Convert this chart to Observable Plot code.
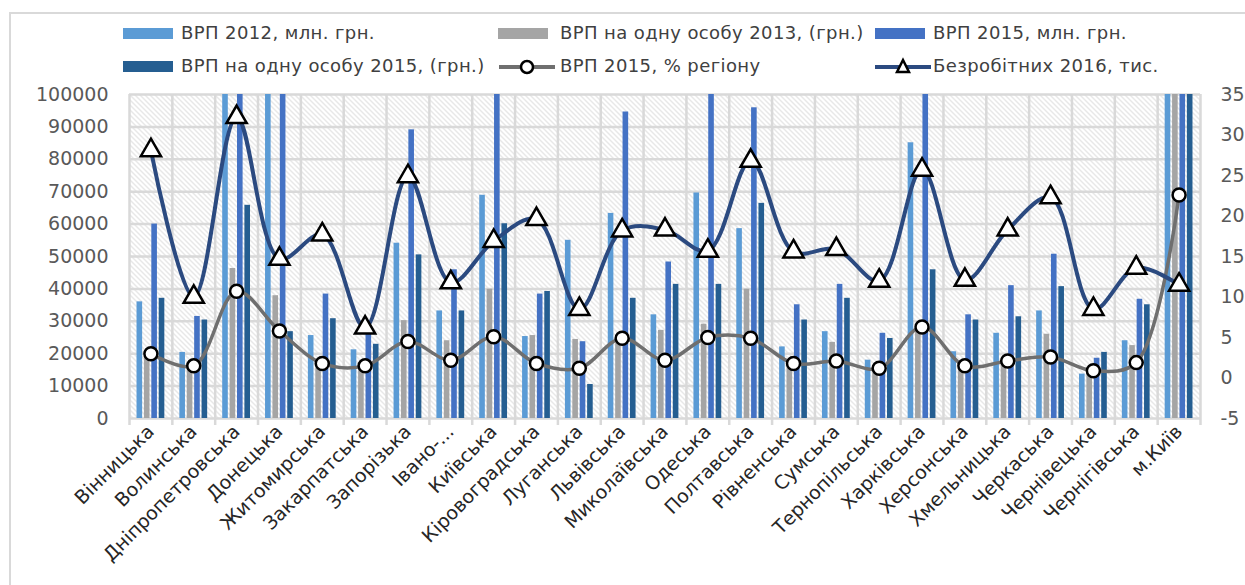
<!DOCTYPE html>
<html><head><meta charset="utf-8">
<script src="https://cdn.jsdelivr.net/npm/d3@7"></script>
<script src="https://cdn.jsdelivr.net/npm/@observablehq/plot@0.6"></script>
<style>
body{margin:0;background:#fff;width:1245px;height:585px;overflow:hidden;position:relative;font-family:"DejaVu Sans",sans-serif;}
#frame{position:absolute;left:9px;top:12px;width:1400px;height:700px;border:2px solid #d9d9d9;}
#chart{position:absolute;left:0;top:80px;}
.leg{position:absolute;font:18px "DejaVu Sans",sans-serif;letter-spacing:0.4px;color:#404040;white-space:nowrap;line-height:22px;height:22px;}
.sw{position:absolute;height:11px;width:50px;}
</style>
</head><body>
<div id="frame"></div>
<div id="legend"></div>
<div id="chart"></div>
<script>
const regions = ["Вінницька","Волинська","Дніпропетровська","Донецька","Житомирська","Закарпатська","Запорізька","Івано-...","Київська","Кіровоградська","Луганська","Львівська","Миколаївська","Одеська","Полтавська","Рівненська","Сумська","Тернопільська","Харківська","Херсонська","Хмельницька","Черкаська","Чернівецька","Чернігівська","м.Київ"];
const grp2012 = [36000,20400,150000,157000,25600,21200,54100,33200,68900,25300,55000,63300,32000,69600,58600,22100,26800,18000,85100,20600,26300,33200,13700,24000,311000];
const perCap2013 = [20000,16000,46300,37900,17000,16000,30200,24000,39900,25600,24400,24000,27200,29100,39900,16500,23500,14500,28000,15000,17000,26000,14000,22500,110000];
const grp2015 = [60000,31500,247000,119000,38400,26000,89100,45900,134000,38400,23700,94600,48300,103000,95900,35100,41400,26300,133000,32000,41000,50700,18600,36800,512000];
const perCap2015 = [37100,30400,65800,26800,30800,22900,50500,33200,60100,39200,10500,37100,41400,41400,66400,30400,37100,24700,45900,30400,31400,40700,20400,35100,175000];
const pct2015 = [3.0,1.5,10.7,5.8,1.8,1.5,4.5,2.2,5.1,1.8,1.2,4.9,2.2,5.0,4.9,1.8,2.1,1.2,6.3,1.5,2.1,2.6,0.9,1.9,22.6];
const unemployed2016 = [28.1,10.0,32.2,14.7,17.7,6.2,24.9,11.8,16.9,19.6,8.5,18.2,18.3,15.7,26.8,15.6,15.9,12.0,25.7,12.1,18.3,22.3,8.5,13.6,11.5];
const leftTicks = [0,10000,20000,30000,40000,50000,60000,70000,80000,90000,100000];
const rightTicks = [-5,0,5,10,15,20,25,30,35];
const seriesNames = ["ВРП 2012, млн. грн.","ВРП на одну особу 2013, (грн.)","ВРП 2015, млн. грн.","ВРП на одну особу 2015, (грн.)","ВРП 2015, % регіону","Безробітних 2016, тис."];
const colors = ["#5B9BD5","#A5A5A5","#4472C4","#255E91","#6f6f6f","#2b4a80"];

const data = regions.map((r,i)=>({region:r, a:grp2012[i], b:perCap2013[i], c:grp2015[i], d:perCap2015[i], pct:pct2015[i], un:unemployed2016[i]}));
// right axis (-5..35) mapped onto left axis (0..100000)
const toLeft = v => (v + 5) * 2500;

const W = 1245, ML = 129, MR = 45;
const bw = (W - ML - MR) / regions.length;
const barW = 5.6, inset = (bw - barW) / 2, step = 7.4;
const keys = ["a","b","c","d"];
const offs = [-1.5*step, -0.5*step, 0.5*step, 1.5*step];

const svg = Plot.plot({
  width: W, height: 500,
  marginLeft: ML, marginRight: MR, marginTop: 14, marginBottom: 162,
  x: {type: "band", domain: regions, padding: 0, round: false, label: null},
  y: {domain: [0, 100000], label: null},
  style: {fontFamily: "DejaVu Sans", fontSize: "19px", color: "#595959", background: "transparent"},
  marks: [
    Plot.frame({fill: "url(#hatch)", stroke: null}),
    Plot.gridY(leftTicks, {stroke: "#d9d9d9", strokeOpacity: 1, strokeWidth: 2.5}),
    Plot.ruleX(regions, {x: d => d, dx: -bw/2, stroke: "#d9d9d9", strokeWidth: 2.5, insetBottom: -7}),
    Plot.ruleX(regions.slice(-1), {x: d => d, dx: bw/2, stroke: "#d9d9d9", strokeWidth: 2.5, insetBottom: -7}),
    ...keys.map((k,i) => Plot.barY(data, {x: "region", y: k, fill: colors[i], insetLeft: inset, insetRight: inset, dx: offs[i], clip: true})),
    Plot.line(data, {x: "region", y: d => toLeft(d.pct), curve: "catmull-rom", stroke: colors[4], strokeWidth: 3.5}),
    Plot.line(data, {x: "region", y: d => toLeft(d.un), curve: "catmull-rom", stroke: colors[5], strokeWidth: 4}),
    Plot.dot(data, {x: "region", y: d => toLeft(d.pct), r: 6.5, fill: "white", stroke: "black", strokeWidth: 2.5}),
    Plot.dot(data, {x: "region", y: d => toLeft(d.un), symbol: "triangle", r: 7.5, fill: "white", stroke: "black", strokeWidth: 2.5}),
    Plot.axisY(leftTicks, {anchor: "left", tickSize: 0, tickPadding: 21, tickFormat: d => String(d), fill: "#595959", label: null}),
    Plot.axisY(rightTicks.map(toLeft), {anchor: "right", tickSize: 0, tickPadding: 20, tickFormat: d => String(Math.round(d/2500 - 5)), fill: "#595959", label: null}),
    Plot.axisX({tickSize: 0, tickRotate: -45, tickPadding: 10, fill: "#262626", fontSize: 19, label: null})
  ]
});
const ns = "http://www.w3.org/2000/svg";
const defs = document.createElementNS(ns, "defs");
defs.innerHTML = '<pattern id="hatch" patternUnits="userSpaceOnUse" width="5" height="5"><rect width="5" height="5" fill="white"/><path d="M0,0L5,5M-1,4L1,6M4,-1L6,1" stroke="#d0d0d0" stroke-width="1"/></pattern>';
svg.insertBefore(defs, svg.firstChild);
document.getElementById("chart").appendChild(svg);

// legend
const leg = document.getElementById("legend");
const items = [
  {kind:"bar", i:0, sx:123, tx:181, y:34},
  {kind:"bar", i:1, sx:498, tx:560, y:34},
  {kind:"bar", i:2, sx:875, tx:933, y:34},
  {kind:"bar", i:3, sx:123, tx:181, y:67},
  {kind:"circle", i:4, sx:497, tx:560, y:67},
  {kind:"tri", i:5, sx:873, tx:933, y:67}
];
for (const it of items) {
  if (it.kind === "bar") {
    const s = document.createElement("div");
    s.className = "sw";
    s.style.left = it.sx + "px"; s.style.top = (it.y - 6) + "px"; s.style.background = colors[it.i];
    leg.appendChild(s);
  } else {
    const s = document.createElementNS(ns, "svg");
    s.setAttribute("width", 60); s.setAttribute("height", 20);
    s.style.position = "absolute"; s.style.left = it.sx + "px"; s.style.top = (it.y - 10) + "px";
    const marker = it.kind === "circle"
      ? '<circle cx="30" cy="10" r="6" fill="white" stroke="black" stroke-width="2.5"/>'
      : '<path d="M30,3L36,15L24,15Z" fill="white" stroke="black" stroke-width="2.5" stroke-linejoin="miter"/>';
    s.innerHTML = '<line x1="2" x2="58" y1="10" y2="10" stroke="' + colors[it.i] + '" stroke-width="4"/>' + marker;
    leg.appendChild(s);
  }
  const t = document.createElement("div");
  t.className = "leg";
  t.style.left = it.tx + "px"; t.style.top = (it.y - 12) + "px";
  t.textContent = seriesNames[it.i];
  leg.appendChild(t);
}
</script>
</body></html>
